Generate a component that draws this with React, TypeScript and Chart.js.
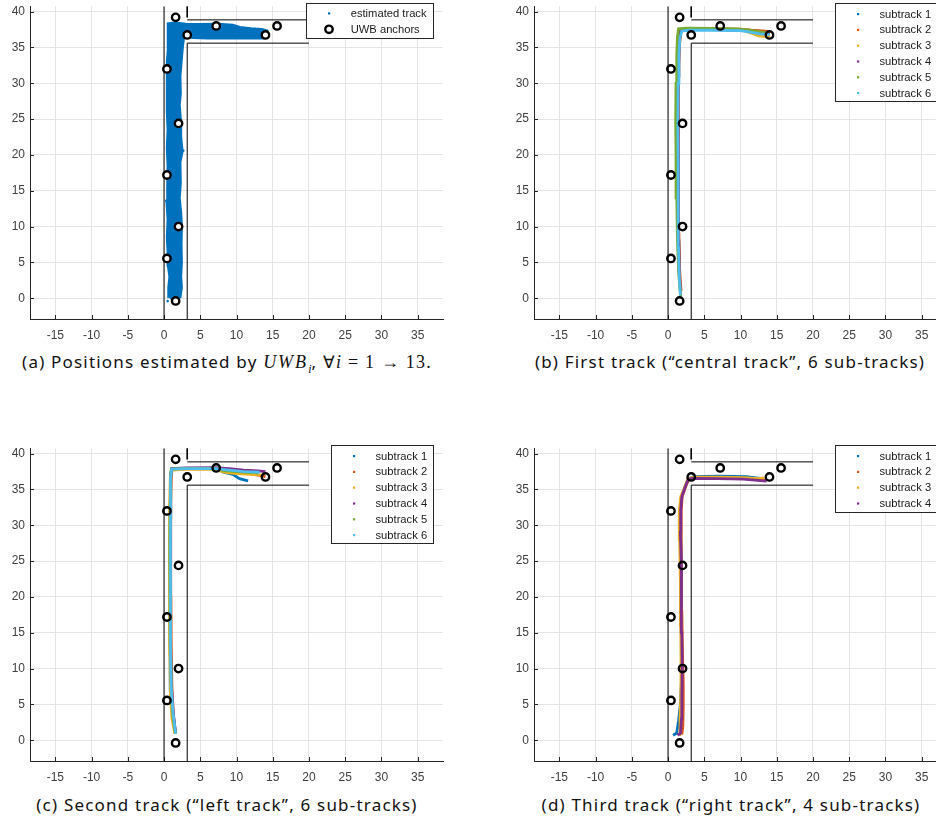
import React, { useEffect, useRef } from "react";
import { Chart, registerables } from "chart.js";

Chart.register(...registerables);

type P = [number, number];

// ---------- axis data ----------
const X_TICKS = [-15, -10, -5, 0, 5, 10, 15, 20, 25, 30, 35];
const Y_TICKS = [0, 5, 10, 15, 20, 25, 30, 35, 40];
const X_MIN = -18.5;
const X_MAX = 38.5;
const Y_MIN = -2.9;
const Y_MAX = 40.73;

// ---------- building walls ----------
const WALL_LEFT: P[] = [[0, -5], [0, 45]];
const WALL_INNER: P[] = [[3.2, -5], [3.2, 35.6], [20, 35.6]];
const WALL_STUB: P[] = [[3.2, 45], [3.2, 39.2]];
const WALL_TOP: P[] = [[3.2, 38.85], [20, 38.85]];

// ---------- UWB anchors ----------
const ANCHORS: P[] = [
  [1.6, 39.2], [3.2, 36.75], [7.2, 38.0], [14.0, 36.75], [15.6, 38.0],
  [0.4, 32.0], [2.0, 24.4], [0.4, 17.2], [2.0, 10.0], [0.4, 5.55], [1.6, -0.38],
];

// ---------- (a) estimated track (outline of the point cloud) ----------
const TRACK_A: P[] = [
  [0.6, 0.1], [0.55, 1.5], [0.7, 3], [0.5, 4.5], [0.45, 6.5], [0.35, 8.5], [0.45, 11],
  [0.3, 13.5], [0.4, 15.5], [0.45, 18.5], [0.35, 21], [0.45, 23.5], [0.35, 26], [0.3, 28.5],
  [0.4, 30.5], [0.35, 33], [0.5, 35], [0.45, 37], [0.5, 38.4],
  [1.5, 38.5], [3, 38.35], [5, 38.3], [7.5, 38.35], [9.5, 38.2], [10.5, 37.9], [12, 37.7],
  [13.5, 37.6], [14.3, 37.4], [14.4, 36.7], [13.8, 36.2], [12, 36.2], [9, 36.25], [6, 36.2],
  [4, 36.3], [2.8, 36.4], [2.65, 35.2], [2.5, 33.5], [2.3, 31], [2.35, 28.5], [2.2, 27],
  [2.35, 25], [2.4, 22.5], [2.6, 20.5], [2.3, 19], [2.35, 16], [2.2, 14], [2.4, 12], [2.5, 10],
  [2.45, 7.5], [2.5, 5], [2.4, 3], [2.5, 1.5], [2.3, 0.1], [1.5, -0.2], [0.9, -0.1],
];
const TRACK_A_STRAY: P[] = [[0.5, -0.4], [0.3, 13.6], [2.65, 20.6]];

// ---------- (b) central track ----------
const B_SUB1: P[] = [[1.6, 4.6], [1.5, 8], [1.4, 12], [1.35, 18], [1.3, 24], [1.35, 30], [1.45, 34], [1.6, 36.6], [1.9, 37.45], [3, 37.55], [6, 37.55], [9, 37.5], [11, 37.35], [12.5, 37.0], [14, 36.9]];
const B_SUB2: P[] = [[1.8, 1.0], [1.6, 4], [1.5, 9], [1.45, 15], [1.4, 21], [1.4, 27], [1.5, 32], [1.6, 35.5], [1.8, 37.3], [2.6, 37.6], [6, 37.6], [10, 37.55], [11.5, 37.4], [13, 37.3], [14.1, 37.2]];
const B_SUB3: P[] = [[1.7, 0.8], [1.5, 4], [1.35, 9], [1.3, 15], [1.3, 21], [1.3, 27], [1.35, 32], [1.5, 36], [1.75, 37.5], [3, 37.65], [7, 37.6], [10, 37.5], [11.5, 37.0], [12.5, 36.6], [13.5, 36.5], [14.1, 36.6]];
const B_SUB4: P[] = [[1.75, 0.6], [1.55, 3.5], [1.45, 8], [1.4, 14], [1.4, 20], [1.35, 26], [1.4, 31], [1.5, 35], [1.7, 37.3], [2.5, 37.5], [6, 37.5], [10, 37.4], [12, 37.2], [13.5, 37.0], [14, 36.9]];
const B_SUB5: P[] = [[1.75, 0.3], [1.5, 3], [1.3, 8], [1.2, 14], [1.1, 20], [1.05, 25], [1.1, 30], [1.2, 34], [1.3, 36.5], [1.45, 37.6], [2.5, 37.7], [6, 37.65], [9.5, 37.6], [11, 37.45], [12.5, 37.2], [13.8, 37.0]];
const B_SUB6: P[] = [[1.7, 0.4], [1.55, 3], [1.45, 7], [1.4, 12], [1.4, 18], [1.35, 24], [1.4, 30], [1.5, 34], [1.65, 36.4], [1.9, 37.3], [3, 37.4], [7, 37.4], [10, 37.35], [11.5, 37.1], [12.7, 36.9], [14, 36.8]];

// ---------- (c) left track ----------
const C_SUB1: P[] = [[1.6, 0.9], [1.2, 3.5], [0.95, 7], [0.85, 12], [0.8, 18], [0.8, 25], [0.85, 31], [0.9, 35], [0.95, 37.3], [1.1, 37.9], [3, 37.95], [6, 37.95], [7.5, 37.8], [8.2, 37.4], [9.5, 37.1], [10.4, 36.5], [11.6, 36.2]];
const C_SUB2: P[] = [[1.55, 1.0], [1.3, 3.5], [1.1, 7], [1.0, 12], [0.95, 20], [0.9, 27], [0.95, 33], [1.0, 36.5], [1.1, 37.8], [3, 37.9], [7, 37.9], [9, 37.6], [11, 37.3], [13, 37.0], [14, 36.8]];
const C_SUB3: P[] = [[1.5, 0.9], [1.1, 3], [0.9, 6], [0.8, 12], [0.75, 20], [0.75, 27], [0.8, 33], [0.85, 36.5], [1.0, 37.7], [3, 37.8], [7, 37.8], [8.5, 37.4], [10, 37.2], [12, 37.1], [13.5, 37.0]];
const C_SUB4: P[] = [[1.6, 1.0], [1.25, 4], [1.0, 8], [0.9, 14], [0.85, 20], [0.85, 27], [0.9, 33], [0.95, 36.5], [1.05, 37.9], [3, 38.0], [7, 38.05], [9, 37.9], [11, 37.7], [13, 37.6], [14, 37.5]];
const C_SUB5: P[] = [[1.55, 0.9], [1.2, 3.5], [1.0, 7], [0.9, 13], [0.85, 20], [0.8, 27], [0.85, 33], [0.9, 36.5], [1.0, 37.85], [3, 37.95], [7, 37.95], [8.5, 37.6], [10, 37.5], [11.5, 37.4], [13, 37.3]];
const C_SUB6: P[] = [[1.6, 0.9], [1.25, 3.7], [1.0, 7], [0.9, 12], [0.85, 20], [0.85, 27], [0.9, 33], [0.95, 36.5], [1.05, 37.85], [3, 37.9], [7, 37.9], [9, 37.7], [11, 37.5], [13.2, 37.4]];

// ---------- (d) right track ----------
const D_SUB1: P[] = [[0.7, 0.7], [1.2, 1.0], [1.45, 2.75], [1.7, 5], [1.85, 8], [1.9, 12], [1.85, 18], [1.8, 24], [1.75, 29], [1.75, 32], [1.9, 34], [2.35, 35.4], [2.8, 36.5], [3.5, 36.8], [7, 36.85], [10.8, 36.8], [12.7, 36.55]];
const D_SUB2: P[] = [[1.9, 0.8], [2.05, 2], [2.1, 5], [2.1, 8], [2.0, 12], [1.9, 18], [1.85, 24], [1.8, 29], [1.8, 32], [1.95, 34], [2.4, 35.3], [2.85, 36.4], [3.5, 36.6], [7, 36.6], [10.5, 36.55], [12.5, 36.4], [13.5, 36.3]];
const D_SUB3: P[] = [[1.6, 0.8], [1.65, 3], [1.75, 6], [1.8, 10], [1.75, 16], [1.7, 22], [1.6, 28], [1.55, 32], [1.75, 34], [2.3, 35.3], [2.75, 36.5], [3.5, 36.7], [7, 36.7], [10.5, 36.65], [12.5, 36.5], [13.3, 36.6]];
const D_SUB4: P[] = [[1.3, 0.7], [1.7, 0.95], [1.85, 3], [1.9, 6], [1.95, 10], [1.9, 15], [1.85, 20], [1.8, 25], [1.7, 29], [1.75, 32.1], [1.9, 34], [2.35, 35.3], [2.8, 36.45], [3.5, 36.55], [7, 36.5], [10.4, 36.45], [12, 36.3], [13.6, 36.15]];

const SUB_LABELS = ["subtrack 1", "subtrack 2", "subtrack 3", "subtrack 4", "subtrack 5", "subtrack 6"];
const COLORS = ["#0072BD", "#D95319", "#EDB120", "#7E2F8E", "#77AC30", "#4DBEEE"];

// ---------- helpers ----------
const TICK_FONT = "'Liberation Sans', Arial, Helvetica, sans-serif";
const AX_COLOR = "#262626";

const pts = (a: P[]) => a.map(([x, y]) => ({ x, y }));

function wallSets() {
  return [WALL_LEFT, WALL_INNER, WALL_STUB, WALL_TOP].map((w) => ({
    data: pts(w),
    showLine: true,
    borderColor: "#000",
    borderWidth: 1,
    pointRadius: 0,
    fill: false,
  }));
}

function anchorSet(fillWhite: boolean) {
  return {
    data: pts(ANCHORS),
    showLine: false,
    pointRadius: 3.7,
    pointBorderWidth: 2.4,
    pointBorderColor: "#000",
    pointBackgroundColor: fillWhite ? "#fff" : "rgba(0,0,0,0)",
  };
}

function subSets(tracks: P[][]) {
  return tracks.map((t, i) => ({
    data: pts(t),
    showLine: true,
    borderColor: COLORS[i],
    borderWidth: 2.8,
    pointRadius: 0,
    fill: false,
  }));
}

type LegendItem = { label: string; kind: "dot" | "circle"; color: string };
type LegendBox = { x: number; y: number; w: number; h: number; first: number; step: number; mx: number; tx: number };

function legendPlugin(items: LegendItem[], box: LegendBox) {
  return {
    id: "matlabLegend",
    afterDraw(chart: any) {
      const ctx = chart.ctx as CanvasRenderingContext2D;
      ctx.save();
      ctx.fillStyle = "#fff";
      ctx.fillRect(box.x, box.y, box.w, box.h);
      ctx.strokeStyle = AX_COLOR;
      ctx.lineWidth = 1;
      ctx.strokeRect(box.x + 0.5, box.y + 0.5, box.w, box.h);
      ctx.font = `11.2px ${TICK_FONT}`;
      ctx.textBaseline = "middle";
      ctx.textAlign = "left";
      items.forEach((it, i) => {
        const y = box.y + box.first + i * box.step;
        if (it.kind === "dot") {
          ctx.fillStyle = it.color;
          ctx.fillRect(box.x + box.mx - 1, y - 1, 2.2, 2.2);
        } else {
          ctx.beginPath();
          ctx.arc(box.x + box.mx, y, 3.7, 0, Math.PI * 2);
          ctx.lineWidth = 2.4;
          ctx.strokeStyle = "#000";
          ctx.fillStyle = "#fff";
          ctx.fill();
          ctx.stroke();
        }
        ctx.fillStyle = "#1a1a1a";
        ctx.fillText(it.label, box.x + box.tx, y + 0.5);
      });
      ctx.restore();
    },
  };
}

const innerTicks = {
  id: "innerTicks",
  beforeDatasetsDraw(chart: any) {
    const ctx = chart.ctx as CanvasRenderingContext2D;
    const { left, bottom } = chart.chartArea;
    const xs = chart.scales.x;
    const ys = chart.scales.y;
    ctx.save();
    ctx.strokeStyle = AX_COLOR;
    ctx.lineWidth = 1;
    ctx.beginPath();
    X_TICKS.forEach((v) => {
      const px = Math.round(xs.getPixelForValue(v)) + 0.5;
      ctx.moveTo(px, bottom);
      ctx.lineTo(px, bottom - 4);
    });
    Y_TICKS.forEach((v) => {
      const py = Math.round(ys.getPixelForValue(v)) + 0.5;
      ctx.moveTo(left, py);
      ctx.lineTo(left + 4, py);
    });
    ctx.stroke();
    ctx.restore();
  },
};

const W = 468;
const H = 345;

// layers are listed bottom-to-top; Chart.js paints the first dataset last, so reverse
function makeChart(canvas: HTMLCanvasElement, layers: any[], items: LegendItem[], box: LegendBox) {
  const datasets = layers.slice().reverse();
  return new Chart(canvas, {
    type: "scatter",
    data: { datasets },
    options: {
      animation: false,
      responsive: false,
      events: [],
      devicePixelRatio: 1,
      layout: { padding: { top: 2, right: 25, bottom: 0, left: 0 } },
      plugins: { legend: { display: false }, tooltip: { enabled: false } },
      scales: {
        x: {
          type: "linear",
          min: X_MIN,
          max: X_MAX,
          afterBuildTicks: (s: any) => {
            s.ticks = X_TICKS.map((v) => ({ value: v }));
          },
          afterFit: (s: any) => {
            s.height = 26;
            s.paddingLeft = 0;
            s.paddingRight = 0;
          },
          grid: { color: "#e4e4e4", lineWidth: 1, drawTicks: false },
          border: { color: AX_COLOR, width: 1 },
          ticks: {
            color: "#404040",
            font: { family: TICK_FONT, size: 12 },
            padding: 9,
            maxRotation: 0,
            autoSkip: false,
            callback: (v: any) => String(v),
          },
        },
        y: {
          type: "linear",
          min: Y_MIN,
          max: Y_MAX,
          afterBuildTicks: (s: any) => {
            s.ticks = Y_TICKS.map((v) => ({ value: v }));
          },
          afterFit: (s: any) => {
            s.width = 30;
            s.paddingTop = 0;
            s.paddingBottom = 0;
          },
          grid: { color: "#e4e4e4", lineWidth: 1, drawTicks: false },
          border: { color: AX_COLOR, width: 1 },
          ticks: {
            color: "#404040",
            font: { family: TICK_FONT, size: 12 },
            padding: 5,
            autoSkip: false,
            callback: (v: any) => String(v),
          },
        },
      },
    } as any,
    plugins: [innerTicks, legendPlugin(items, box)],
  });
}

function Panel(props: { left: number; top: number; build: (c: HTMLCanvasElement) => Chart }) {
  const ref = useRef<HTMLCanvasElement | null>(null);
  useEffect(() => {
    if (!ref.current) return;
    const ch = props.build(ref.current);
    return () => ch.destroy();
  }, []);
  return (
    <canvas
      ref={ref}
      width={W}
      height={H}
      style={{ position: "absolute", left: props.left, top: props.top, width: W, height: H }}
    />
  );
}

const subItems = (n: number): LegendItem[] =>
  SUB_LABELS.slice(0, n).map((l, i) => ({ label: l, kind: "dot", color: COLORS[i] }));

const boxSub = (n: number): LegendBox => ({
  x: 331, y: 3, w: 102, h: n === 6 ? 98 : 67, first: 11, step: 15.8, mx: 23, tx: 44.5,
});

const buildA = (c: HTMLCanvasElement) =>
  makeChart(
    c,
    [
      {
        data: pts(TRACK_A),
        showLine: true,
        borderColor: COLORS[0],
        backgroundColor: COLORS[0],
        borderWidth: 1.5,
        pointRadius: 0,
        fill: "shape",
      },
      {
        data: pts(TRACK_A_STRAY),
        showLine: false,
        pointRadius: 1.3,
        pointBorderWidth: 0,
        pointBackgroundColor: COLORS[0],
      },
      ...wallSets(),
      anchorSet(true),
    ],
    [
      { label: "estimated track", kind: "dot", color: COLORS[0] },
      { label: "UWB anchors", kind: "circle", color: "#000" },
    ],
    { x: 306, y: 3, w: 127, h: 35, first: 10.3, step: 16, mx: 23, tx: 44.7 }
  );

const buildB = (c: HTMLCanvasElement) =>
  makeChart(c, [...subSets([B_SUB1, B_SUB2, B_SUB3, B_SUB4, B_SUB5, B_SUB6]), ...wallSets(), anchorSet(false)], subItems(6), boxSub(6));

const buildC = (c: HTMLCanvasElement) =>
  makeChart(c, [...subSets([C_SUB1, C_SUB2, C_SUB3, C_SUB4, C_SUB5, C_SUB6]), ...wallSets(), anchorSet(false)], subItems(6), boxSub(6));

const buildD = (c: HTMLCanvasElement) =>
  makeChart(c, [...subSets([D_SUB1, D_SUB2, D_SUB3, D_SUB4]), ...wallSets(), anchorSet(false)], subItems(4), boxSub(4));

const CAP_FONT = "'Noto Sans', 'Open Sans', sans-serif";
const MATH_FONT = "'Liberation Serif', 'DejaVu Serif', serif";

function Caption(props: { cx: number; cy: number; children: React.ReactNode }) {
  return (
    <div
      style={{
        position: "absolute",
        left: props.cx,
        top: props.cy - 12,
        height: 24,
        lineHeight: "24px",
        transform: "translateX(-50%)",
        whiteSpace: "nowrap",
        fontFamily: CAP_FONT,
        fontSize: 17,
        letterSpacing: 1.2,
        color: "#111",
      }}
    >
      {props.children}
    </div>
  );
}

export default function App() {
  return (
    <div
      style={{
        position: "absolute",
        left: 0,
        top: 0,
        width: 936,
        height: 823,
        overflow: "hidden",
        background: "#fff",
      }}
    >
      <Panel left={0} top={0} build={buildA} />
      <Panel left={504} top={0} build={buildB} />
      <Panel left={0} top={442} build={buildC} />
      <Panel left={504} top={442} build={buildD} />
      <Caption cx={227} cy={362}>
        (a) Positions estimated by{" "}
        <span style={{ fontFamily: MATH_FONT, fontStyle: "italic", fontSize: 18, letterSpacing: 2 }}>
          UWB<sub style={{ fontSize: 12, letterSpacing: 0 }}>i</sub>
        </span>
        , ∀<span style={{ fontFamily: MATH_FONT, fontStyle: "italic", fontSize: 18 }}>i</span>
        <span style={{ fontFamily: MATH_FONT, fontSize: 18 }}> = 1 → 13.</span>
      </Caption>
      <Caption cx={730} cy={362}>
        (b) First track (“central track”, 6 sub-tracks)
      </Caption>
      <Caption cx={227} cy={805}>
        (c) Second track (“left track”, 6 sub-tracks)
      </Caption>
      <Caption cx={731} cy={805}>
        (d) Third track (“right track”, 4 sub-tracks)
      </Caption>
    </div>
  );
}
